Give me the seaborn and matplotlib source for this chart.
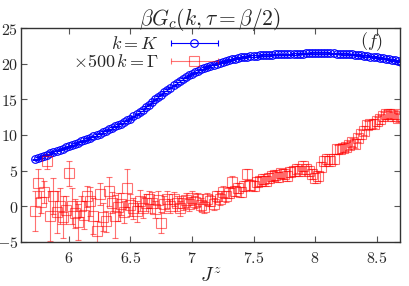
import matplotlib

matplotlib.use("Agg")

import matplotlib.pyplot as plt
import matplotlib.ticker as mticker
import pandas as pd
import seaborn as sns
from matplotlib.container import ErrorbarContainer
from matplotlib.legend_handler import HandlerErrorbar

jz = [
    5.725, 5.75, 5.775, 5.8, 5.825, 5.85, 5.875, 5.9, 5.925, 5.95,
    5.975, 6.0, 6.025, 6.05, 6.075, 6.1, 6.125, 6.15, 6.175, 6.2,
    6.225, 6.25, 6.275, 6.3, 6.325, 6.35, 6.375, 6.4, 6.425, 6.45,
    6.475, 6.5, 6.525, 6.55, 6.575, 6.6, 6.625, 6.65, 6.675, 6.7,
    6.725, 6.75, 6.775, 6.8, 6.825, 6.85, 6.875, 6.9, 6.925, 6.95,
    6.975, 7.0, 7.025, 7.05, 7.075, 7.1, 7.125, 7.15, 7.175, 7.2,
    7.225, 7.25, 7.275, 7.3, 7.325, 7.35, 7.375, 7.4, 7.425, 7.45,
    7.475, 7.5, 7.525, 7.55, 7.575, 7.6, 7.625, 7.65, 7.675, 7.7,
    7.725, 7.75, 7.775, 7.8, 7.825, 7.85, 7.875, 7.9, 7.925, 7.95,
    7.975, 8.0, 8.025, 8.05, 8.075, 8.1, 8.125, 8.15, 8.175, 8.2,
    8.225, 8.25, 8.275, 8.3, 8.325, 8.35, 8.375, 8.4, 8.425, 8.45,
    8.475, 8.5, 8.525, 8.55, 8.575, 8.6, 8.625, 8.65, 8.675, 8.7,
]

g_K = [
    6.60, 6.75, 6.90, 7.10, 7.25, 7.45, 7.60, 7.80, 7.95, 8.10,
    8.25, 8.40, 8.55, 8.75, 8.90, 9.10, 9.25, 9.45, 9.60, 9.80,
    10.0, 10.2, 10.4, 10.6, 10.8, 11.0, 11.2, 11.4, 11.6, 11.8,
    12.05, 12.3, 12.6, 12.9, 13.2, 13.5, 13.9, 14.25, 14.6, 15.0,
    15.3, 15.65, 16.0, 16.3, 16.65, 16.95, 17.3, 17.6, 17.85, 18.1,
    18.35, 18.6, 18.8, 19.0, 19.2, 19.4, 19.55, 19.7, 19.85, 20.0,
    20.15, 20.25, 20.4, 20.5, 20.6, 20.7, 20.8, 20.9, 20.95, 21.0,
    21.05, 21.1, 21.1, 21.15, 21.2, 21.2, 21.2, 21.25, 21.3, 21.3,
    21.3, 21.3, 21.3, 21.3, 21.35, 21.35, 21.4, 21.4, 21.45, 21.45,
    21.5, 21.5, 21.5, 21.5, 21.5, 21.5, 21.45, 21.45, 21.4, 21.4,
    21.35, 21.35, 21.3, 21.3, 21.25, 21.2, 21.15, 21.1, 21.05, 21.0,
    20.95, 20.9, 20.8, 20.75, 20.7, 20.6, 20.5, 20.45, 20.35, 20.3,
]
err_K = [0.1] * len(jz)

g_Gamma = [
    -0.6, 3.2, 0.6, 2.0, 6.3, -1.4, 1.4, -0.8, 0.0, -1.5,
    -0.5, 4.6, 0.0, -1.0, -2.2, 0.0, -1.2, 1.4, 0.7, -1.4,
    -3.5, 1.7, -1.5, -2.1, 2.1, 0.5, -1.4, -0.1, 0.3, -0.8,
    2.6, 0.2, -0.3, -0.7, 0.8, -0.2, 0.5, 1.0, 0.5, -0.4,
    0.9, -2.3, 0.3, 1.0, 0.0, 1.0, 0.4, -0.3, 0.5, 0.9,
    0.3, 1.2, 0.6, 1.0, 0.2, -0.1, 1.0, 0.8, 0.3, 1.4,
    1.0, 2.0, 1.4, 1.9, 3.4, 2.2, 2.5, 2.0, 2.8, 4.5,
    3.0, 2.8, 3.4, 3.6, 3.8, 3.6, 4.0, 4.2, 4.4, 4.1,
    4.6, 4.5, 4.2, 4.8, 4.9, 5.3, 5.0, 5.6, 5.2, 4.9,
    4.5, 4.0, 4.3, 5.5, 6.3, 6.6, 6.4, 6.7, 8.0, 8.1,
    8.2, 8.3, 8.6, 9.0, 8.8, 9.6, 10.1, 10.6, 11.4, 11.5,
    11.6, 11.9, 12.2, 12.6, 12.9, 13.0, 12.6, 12.9, 12.4, 12.6,
]
err_Gamma = [
    2.8, 2.0, 1.5, 1.5, 1.0, 3.5, 2.5, 3.0, 2.5, 3.0,
    2.0, 1.7, 2.5, 2.0, 2.5, 1.5, 2.0, 1.5, 2.0, 2.5,
    1.5, 1.5, 2.0, 1.5, 2.0, 1.5, 3.0, 2.0, 1.5, 1.5,
    2.7, 1.5, 1.5, 1.5, 1.5, 1.5, 1.2, 1.2, 1.5, 1.2,
    1.2, 1.5, 1.2, 1.2, 1.0, 1.0, 1.0, 1.0, 1.0, 1.0,
    1.0, 1.0, 0.9, 0.9, 0.9, 0.9, 0.8, 0.8, 0.8, 0.8,
    0.8, 0.8, 0.8, 0.8, 0.8, 0.7, 0.7, 0.7, 0.7, 0.8,
    0.7, 0.7, 0.7, 0.7, 0.7, 0.7, 0.7, 0.7, 0.7, 0.7,
    0.7, 0.7, 0.7, 0.7, 0.7, 0.7, 0.7, 0.7, 0.7, 0.7,
    0.7, 0.7, 0.7, 0.7, 0.7, 0.7, 0.7, 0.7, 0.6, 0.6,
    0.6, 0.6, 0.6, 0.6, 0.6, 0.6, 0.6, 0.6, 0.6, 0.6,
    0.6, 0.6, 0.6, 0.6, 0.6, 0.6, 0.6, 0.6, 0.6, 0.6,
]

x_ticks = [6, 6.5, 7, 7.5, 8, 8.5]
y_ticks = [-5, 0, 5, 10, 15, 20, 25]
labels = [r"$k=K$", r"$\times 500\, k=\Gamma$"]

df = pd.DataFrame(
    {"jz": jz, "gK": g_K, "eK": err_K, "gG": g_Gamma, "eG": err_Gamma}
)

sns.set_style("ticks")
plt.rcParams["mathtext.fontset"] = "cm"
plt.rcParams["font.family"] = ["DejaVu Serif"]

fig = plt.figure(figsize=(4.09, 2.86), dpi=100)
ax = fig.add_axes([0.051, 0.154, 0.927, 0.748])

cK = ax.errorbar(
    df["jz"], df["gK"], yerr=df["eK"], fmt="o", color="blue", mfc="none",
    ms=5.5, mew=0.8, elinewidth=0.8, capsize=2.5,
)
cG = ax.errorbar(
    df["jz"], df["gG"], yerr=df["eG"], fmt="s", color="red", mfc="none",
    ms=7, mew=0.8, elinewidth=0.8, capsize=2.5, alpha=0.55,
)

ax.set_xlim(5.61, 8.69)
ax.set_ylim(-5, 25)
ax.set_xticks(x_ticks)
ax.set_yticks(y_ticks)
fmt = mticker.FuncFormatter(lambda v, _: f"${v:g}$")
ax.xaxis.set_major_formatter(fmt)
ax.yaxis.set_major_formatter(fmt)
ax.tick_params(direction="in", top=True, right=True, labelsize=11.5,
               length=4, color="#555555")
ax.tick_params(axis="x", pad=6)
ax.tick_params(axis="y", pad=2)
for s in ax.spines.values():
    s.set_color("#333333")
    s.set_linewidth(1.0)

ax.set_title(r"$\beta G_c(k,\tau=\beta/2)$", fontsize=15.5, pad=2)
ax.set_xlabel(r"$J^z$", fontsize=14, labelpad=0)
ax.text(0.925, 0.935, r"$(f)$", transform=ax.transAxes, fontsize=13,
        ha="center", va="center")

# legend handles drawn with horizontal error bars, like the original figure
handles = [
    ErrorbarContainer(c.lines, has_xerr=True, has_yerr=False)
    for c in (cK, cG)
]
ax.legend(handles, labels, loc="upper left", bbox_to_anchor=(0.1, 1.035),
          frameon=False, markerfirst=False, fontsize=13, handlelength=2.7,
          handletextpad=0.6, labelspacing=0.0, borderpad=0.3,
          handler_map={ErrorbarContainer: HandlerErrorbar(xerr_size=1.3)})

fig.savefig("out.png", dpi=100)
